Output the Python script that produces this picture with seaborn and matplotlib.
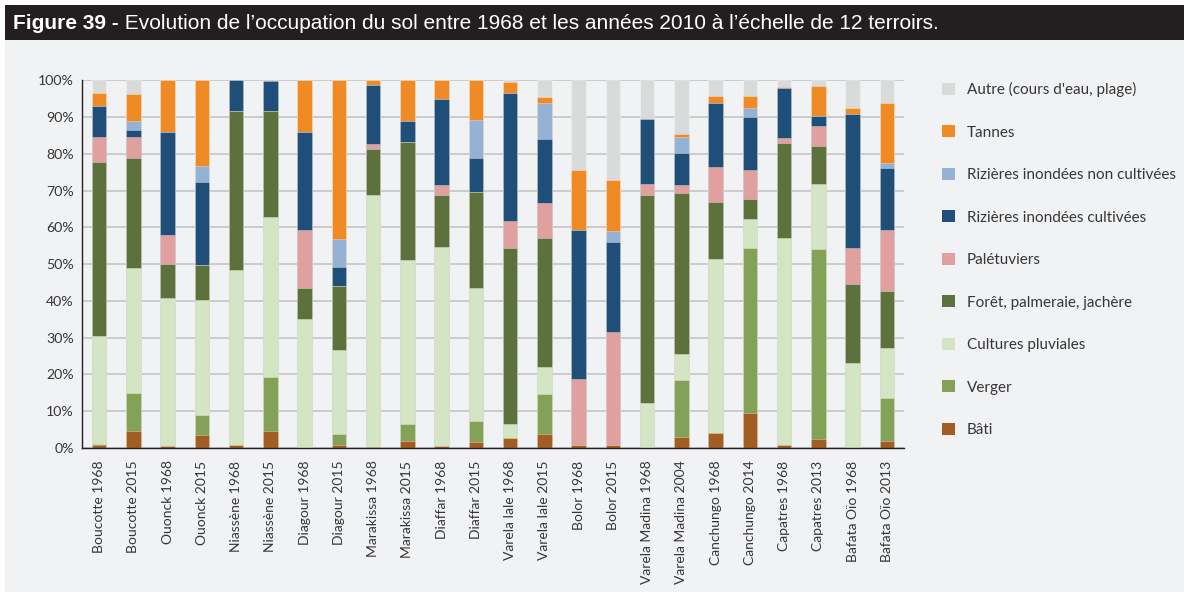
import matplotlib
matplotlib.use("Agg")
import matplotlib.pyplot as plt
from matplotlib.patches import Rectangle, Patch
import numpy as np
import pandas as pd
import seaborn as sns

# Terroirs (one bar each), bottom-to-top land-use shares in percent
terroirs = [
    "Boucotte 1968", "Boucotte 2015", "Ouonck 1968", "Ouonck 2015",
    "Niassène 1968", "Niassène 2015", "Diagour 1968", "Diagour 2015",
    "Marakissa 1968", "Marakissa 2015", "Diaffar 1968", "Diaffar 2015",
    "Varela Iale 1968", "Varela Iale 2015", "Bolor 1968", "Bolor 2015",
    "Varela Madina 1968", "Varela Madina 2004", "Canchungo 1968", "Canchungo 2014",
    "Capatres 1968", "Capatres 2013", "Bafata Oïo 1968", "Bafata Oïo 2013",
]

bati = [0.7, 4.7, 0.5, 3.6, 0.9, 4.5, 0.0, 0.7, 0.3, 1.8, 0.5, 1.5,
        2.7, 3.9, 0.7, 0.7, 0.0, 2.9, 4.2, 9.6, 0.7, 2.4, 0.0, 2.0]
verger = [0.4, 10.3, 0.0, 5.5, 0.0, 14.7, 0.0, 3.2, 0.0, 4.7, 0.0, 5.9,
          0.0, 10.8, 0.0, 0.0, 0.0, 15.6, 0.0, 44.9, 0.0, 51.6, 0.0, 11.7]
cultures = [29.4, 34.0, 40.4, 31.1, 47.5, 43.6, 35.1, 22.7, 68.6, 44.6, 54.1, 36.0,
            3.8, 7.2, 0.0, 0.0, 12.2, 7.1, 47.1, 7.9, 56.5, 17.8, 23.1, 13.6]
foret = [47.4, 29.8, 9.2, 9.6, 43.2, 28.8, 8.5, 17.5, 12.5, 32.1, 14.3, 26.2,
         48.0, 35.3, 0.0, 0.0, 56.6, 43.8, 15.6, 5.4, 25.8, 10.3, 21.4, 15.5]
paletuviers = [6.8, 5.9, 7.8, 0.0, 0.0, 0.0, 15.8, 0.0, 1.4, 0.0, 2.5, 0.0,
               7.3, 9.3, 18.1, 30.9, 3.0, 2.0, 9.5, 7.9, 1.4, 5.6, 10.0, 16.6]
riz_cult = [8.2, 1.8, 28.1, 22.6, 8.4, 8.1, 26.5, 5.2, 15.9, 5.8, 23.6, 9.2,
            34.8, 17.4, 40.5, 24.3, 17.7, 8.9, 17.5, 14.3, 13.6, 2.6, 36.2, 16.8]
riz_non_cult = [0.0, 2.4, 0.0, 4.2, 0.0, 0.3, 0.0, 7.5, 0.0, 0.0, 0.0, 10.3,
                0.0, 10.0, 0.0, 3.2, 0.0, 4.4, 0.0, 2.5, 0.0, 0.0, 0.0, 1.2]
tannes = [3.7, 7.5, 14.0, 23.4, 0.0, 0.0, 14.1, 43.2, 1.3, 11.0, 5.0, 10.9,
          3.0, 1.5, 16.4, 13.9, 0.0, 0.7, 1.9, 3.3, 0.3, 8.2, 1.8, 16.5]
autre = [3.4, 3.6, 0.0, 0.0, 0.0, 0.0, 0.0, 0.0, 0.0, 0.0, 0.0, 0.0,
         0.4, 4.6, 24.3, 27.0, 10.5, 14.6, 4.2, 4.2, 1.7, 1.5, 7.5, 6.1]

categories = [
    "Bâti", "Verger", "Cultures pluviales", "Forêt, palmeraie, jachère",
    "Palétuviers", "Rizières inondées cultivées", "Rizières inondées non cultivées",
    "Tannes", "Autre (cours d'eau, plage)",
]
colors = ["#a35c22", "#84a257", "#d4e5c4", "#5c713b", "#e0a09e",
          "#1f4e78", "#95b1d4", "#f08a24", "#d9dbdb"]

df = pd.DataFrame(
    dict(zip(categories, [bati, verger, cultures, foret, paletuviers,
                          riz_cult, riz_non_cult, tannes, autre])),
    index=terroirs,
)
cumulative = df[categories].cumsum(axis=1)

sns.set_theme(style="white")
plt.rcParams["font.family"] = ["Lato", "DejaVu Sans"]

W, H = 1184, 597
panel = "#f1f2f4"
ink = "#363636"

fig = plt.figure(figsize=(W / 100, H / 100), dpi=100, facecolor="white")
# light panel and dark title band, kept behind the axes
fig.patches.append(Rectangle((5 / W, 5 / H), 1 - 5 / W, 552 / H,
                             transform=fig.transFigure, facecolor=panel,
                             edgecolor="none", zorder=-10))
fig.patches.append(Rectangle((5 / W, 557 / H), 1 - 5 / W, 35 / H,
                             transform=fig.transFigure, facecolor="#231f20",
                             edgecolor="none", zorder=-10))

t1 = fig.text(13 / W, 1 - 29 / H, "Figure 39 -", color="white",
              fontsize=15, fontweight="bold", family="Liberation Sans",
              ha="left", va="baseline")

ax = fig.add_axes([82 / W, 1 - 448 / H, (904 - 82) / W, (448 - 80.3) / H])
ax.set_facecolor(panel)
fig.texts.append(plt.Annotation(
    " Evolution de l’occupation du sol entre 1968 et les années 2010 "
    "à l’échelle de 12 terroirs.",
    xy=(1, 0), xycoords=t1, va="bottom", ha="left", color="white",
    fontsize=15, family="Liberation Sans", annotation_clip=False))
fig.texts[-1].set_figure(fig)

# stacked bars: draw running totals from the top layer down
for cat, col in zip(reversed(categories), reversed(colors)):
    sns.barplot(x=terroirs, y=cumulative[cat].values, order=terroirs,
                color=col, saturation=1, width=0.42, errorbar=None,
                edgecolor=(1, 1, 1, 0.45), linewidth=0.5, ax=ax)

ax.set_xlim(-0.5, len(terroirs) - 0.5)
ax.set_ylim(0, 100)
ax.set_yticks(np.arange(0, 101, 10))
ax.set_yticklabels([f"{v}%" for v in range(0, 101, 10)])
ax.set_axisbelow(True)
ax.yaxis.grid(True, color="#c9c9c9", linewidth=1.3)
ax.xaxis.grid(False)
for s in ("top", "right"):
    ax.spines[s].set_visible(False)
for s in ("left", "bottom"):
    ax.spines[s].set_color("#231f20")
    ax.spines[s].set_linewidth(1.0)

ax.set_xticks(np.arange(len(terroirs)))
ax.set_xticklabels(terroirs, rotation=90, fontsize=10.0, color=ink)
ax.set_xticks(np.arange(-0.5, len(terroirs), 1), minor=True)
ax.tick_params(axis="x", which="major", length=0, pad=9)
ax.tick_params(axis="x", which="minor", length=4, width=1, color="#231f20",
               direction="out")
ax.tick_params(axis="y", length=3, width=1, color="#231f20", direction="out",
               labelsize=10.2, labelcolor=ink, pad=3)
ax.set_xlabel("")
ax.set_ylabel("")

handles = [Patch(facecolor=c, edgecolor="none") for c in reversed(colors)]
fig.legend(handles, list(reversed(categories)), loc="upper left",
           bbox_to_anchor=(942 / W, 1 - 82 / H), frameon=False,
           fontsize=11.0, handlelength=0.82, handleheight=0.82, handletextpad=0.8,
           labelspacing=1.85, borderaxespad=0, borderpad=0, labelcolor=ink)

fig.savefig("out.png", dpi=100, facecolor="white")
